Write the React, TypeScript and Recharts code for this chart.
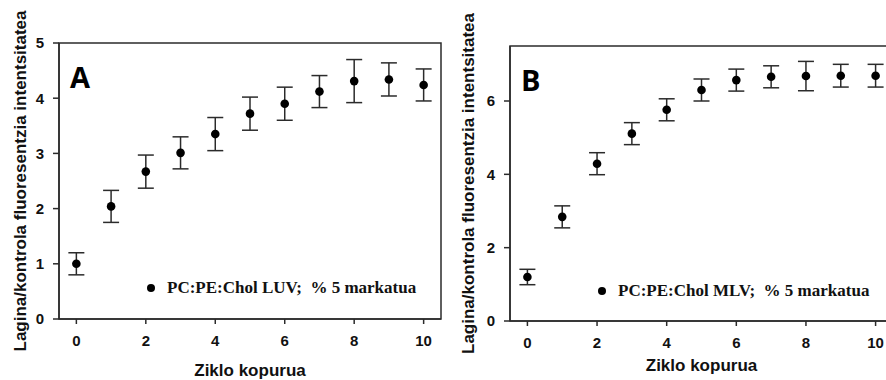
import React from 'react';
import { ScatterChart, Scatter, XAxis, YAxis, ErrorBar, ReferenceArea, Legend } from 'recharts';

const cycles = [0, 1, 2, 3, 4, 5, 6, 7, 8, 9, 10];
const xTicks = [0, 2, 4, 6, 8, 10];

// Panel A: LUV
const luvMean = [1.0, 2.04, 2.67, 3.01, 3.35, 3.72, 3.9, 4.12, 4.31, 4.34, 4.24];
const luvErr = [0.2, 0.29, 0.3, 0.29, 0.3, 0.3, 0.3, 0.29, 0.39, 0.3, 0.29];
const luvTicks = [0, 1, 2, 3, 4, 5];

// Panel B: MLV
const mlvMean = [1.2, 2.84, 4.29, 5.11, 5.76, 6.3, 6.57, 6.66, 6.68, 6.69, 6.69];
const mlvErr = [0.21, 0.3, 0.3, 0.3, 0.3, 0.3, 0.3, 0.3, 0.4, 0.31, 0.31];
const mlvTicks = [0, 2, 4, 6];

const yTitle = 'Lagina/kontrola fluoresentzia intentsitatea';
const xTitle = 'Ziklo kopurua';

const SANS = '"Liberation Sans", Arial, sans-serif';
const SERIF = '"Liberation Serif", "Times New Roman", serif';
const INK = '#2b2b2b';

type PanelProps = {
  letter: string;
  legend: string;
  means: number[];
  errs: number[];
  yMax: number;
  yTicks: number[];
  width: number;
  margin: { top: number; right: number; bottom: number; left: number };
  yLabelShift: number;
  xLabelOffset: number;
  legendPos: { left: number; top: number };
};

const Panel: React.FC<PanelProps> = ({
  letter, legend, means, errs, yMax, yTicks, width, margin, yLabelShift, xLabelOffset, legendPos,
}) => {
  const data = cycles.map((c, i) => ({ cycle: c, mean: means[i], err: errs[i] }));
  const tick = { fill: '#111', fontSize: 15, fontWeight: 700, fontFamily: SANS };

  return (
    <ScatterChart width={width} height={380} margin={margin}>
      <ReferenceArea
        x1={-0.5}
        x2={10.5}
        y1={0}
        y2={yMax}
        fill="none"
        stroke={INK}
        strokeWidth={1.5}
        fillOpacity={0}
        strokeOpacity={1}
        label={{
          content: (p: any) => (
            <text
              x={p.viewBox.x + 11}
              y={p.viewBox.y + 45}
              fontFamily='"Open Sans", sans-serif'
              fontWeight={700}
              fontSize={29}
              fill="#000"
            >
              {letter}
            </text>
          ),
        }}
      />
      <XAxis
        type="number"
        dataKey="cycle"
        domain={[-0.5, 10.5]}
        ticks={xTicks}
        allowDataOverflow
        height={40}
        tickSize={5}
        tickMargin={11}
        stroke={INK}
        strokeWidth={1.5}
        tick={tick}
        label={{
          value: xTitle,
          position: 'bottom',
          offset: xLabelOffset,
          fill: '#111',
          fontSize: 17,
          fontWeight: 700,
          fontFamily: SANS,
        }}
      />
      <YAxis
        type="number"
        dataKey="mean"
        domain={[0, yMax]}
        ticks={yTicks}
        allowDataOverflow
        width={44}
        tickSize={6}
        tickMargin={9}
        stroke={INK}
        strokeWidth={1.5}
        tick={tick}
        label={{
          content: (p: any) => {
            const cx = p.viewBox.x + yLabelShift;
            const cy = p.viewBox.y + p.viewBox.height / 2;
            return (
              <text
                x={cx}
                y={cy}
                transform={`rotate(-90, ${cx}, ${cy})`}
                textAnchor="middle"
                dominantBaseline="central"
                fill="#111"
                fontSize={17}
                fontWeight={700}
                fontFamily={SANS}
              >
                {yTitle}
              </text>
            );
          },
        }}
      />
      <Legend
        layout="vertical"
        align="center"
        verticalAlign="middle"
        wrapperStyle={{ left: legendPos.left, top: legendPos.top, width: 'auto' }}
        content={() => (
          <div style={{ display: 'flex', alignItems: 'center', height: 20 }}>
            <div style={{ width: 8, height: 8, borderRadius: 4, background: '#000' }} />
            <span
              style={{
                marginLeft: 12,
                fontFamily: SERIF,
                fontWeight: 700,
                fontSize: 17,
                color: '#111',
                whiteSpace: 'pre',
              }}
            >
              {legend}
            </span>
          </div>
        )}
      />
      <Scatter
        data={data}
        isAnimationActive={false}
        shape={(p: any) => <circle cx={p.cx} cy={p.cy} r={4.3} fill="#000" />}
      >
        <ErrorBar dataKey="err" direction="y" width={8} stroke={INK} strokeWidth={1.5} />
      </Scatter>
    </ScatterChart>
  );
};

const App: React.FC = () => {
  return (
    <div
      style={{
        position: 'fixed',
        left: 0,
        top: 0,
        width: 886,
        height: 380,
        overflow: 'hidden',
        background: '#fff',
      }}
    >
      <div style={{ position: 'absolute', left: 0, top: 0 }}>
        <Panel
          letter="A"
          legend={'PC:PE:Chol LUV;  % 5 markatua'}
          means={luvMean}
          errs={luvErr}
          yMax={5}
          yTicks={luvTicks}
          width={450}
          margin={{ top: 43, right: 9, bottom: 21, left: 15 }}
          yLabelShift={5}
          xLabelOffset={5}
          legendPos={{ left: 147, top: 278 }}
        />
      </div>
      <div style={{ position: 'absolute', left: 443, top: 0 }}>
        <Panel
          letter="B"
          legend={'PC:PE:Chol MLV;  % 5 markatua'}
          means={mlvMean}
          errs={mlvErr}
          yMax={7.5}
          yTicks={mlvTicks}
          width={459}
          margin={{ top: 46, right: 9, bottom: 19, left: 23 }}
          yLabelShift={2}
          xLabelOffset={-2}
          legendPos={{ left: 155, top: 281 }}
        />
      </div>
    </div>
  );
};

export default App;
